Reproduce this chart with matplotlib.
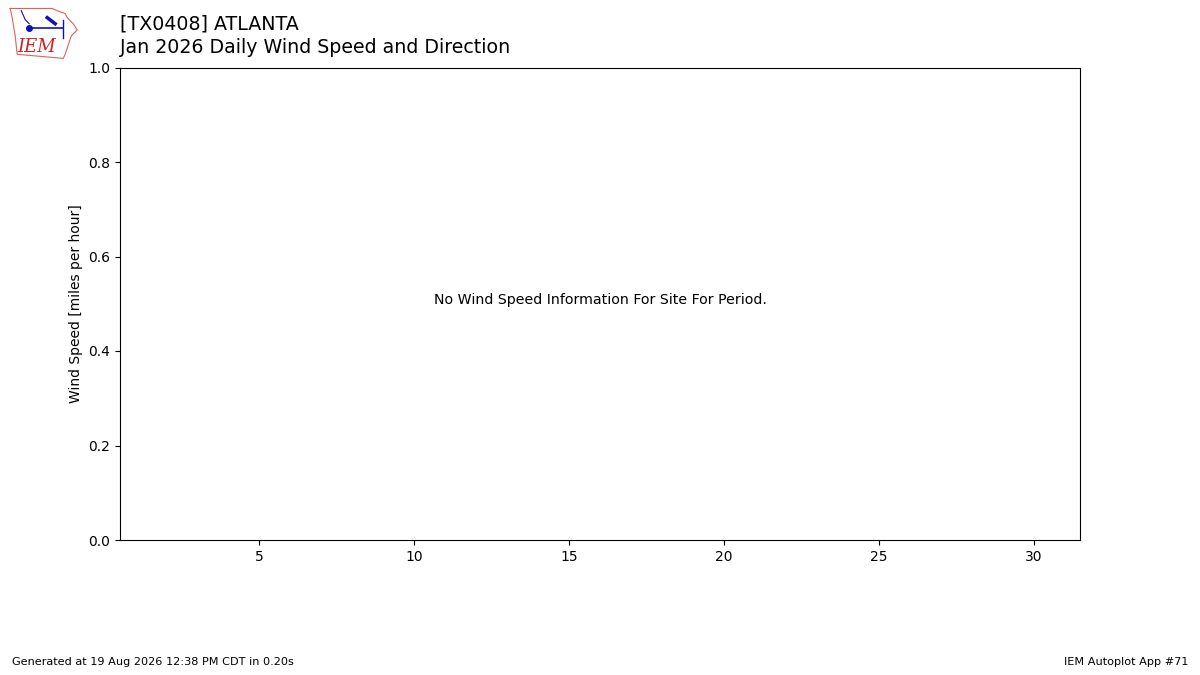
import matplotlib
matplotlib.use('Agg')
import matplotlib.pyplot as plt

# chart text and axis info
station = '[TX0408] ATLANTA'
subtitle = 'Jan 2026 Daily Wind Speed and Direction'
ylabel = 'Wind Speed [miles per hour]'
message = 'No Wind Speed Information For Site For Period.'
footer_left = 'Generated at 19 Aug 2026 12:38 PM CDT in 0.20s'
footer_right = 'IEM Autoplot App #71'
xticks = [5, 10, 15, 20, 25, 30]
yticks = [0.0, 0.2, 0.4, 0.6, 0.8, 1.0]

fig = plt.figure(figsize=(12, 6.75), dpi=100)
ax = fig.add_axes([0.1, 0.2, 0.8, 0.7])
ax.set_xlim(0.5, 31.5)
ax.set_ylim(0, 1)
ax.set_xticks(xticks)
ax.set_yticks(yticks)
ax.set_ylabel(ylabel)
ax.text(0.5, 0.5, message, ha='center', transform=ax.transAxes, fontsize=10.2)

fig.text(0.1, 0.965, station, fontsize=13.7, va='center')
fig.text(0.1, 0.929, subtitle, fontsize=13.7, va='center')
fig.text(0.01, 0.015, footer_left, fontsize=8.1)
fig.text(0.99, 0.015, footer_right, fontsize=8.1, ha='right')

# rough stand-in for the IEM logo
lg = fig.add_axes([0.006, 0.912, 0.06, 0.08])
lg.set_xlim(0, 72)
lg.set_ylim(53, 0)
lg.axis('off')
ox = [3, 45, 52, 58, 60, 66, 70, 64, 62, 60, 58, 56, 10, 8, 5, 3]
oy = [3, 3, 6, 8, 12, 18, 24, 30, 36, 42, 48, 52, 48, 30, 12, 3]
lg.plot(ox, oy, color='#e06060', lw=0.8)
lg.text(10, 46, 'IEM', color='#d02020', fontsize=13, family='DejaVu Serif',
        style='italic')
lg.plot([22, 56], [22, 22], color='#1010c0', lw=1.2)
lg.plot([22], [22], 'o', color='#1010c0', ms=4)
lg.plot([56, 56], [14, 32], color='#1010c0', lw=1.0)
lg.plot([40, 48], [12, 18], color='#1010c0', lw=2.5)
lg.plot([14, 18, 22], [5, 14, 18], color='#1010c0', lw=0.8)

fig.savefig('out.png', dpi=100)
